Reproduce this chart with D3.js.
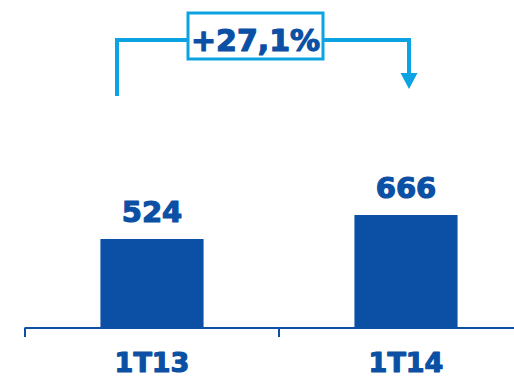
<!DOCTYPE html>
<html>
<head>
<meta charset="utf-8">
<script src="https://cdn.jsdelivr.net/npm/d3@7/dist/d3.min.js"></script>
<style>
  html, body { margin: 0; padding: 0; background: #fff; }
  svg { display: block; }
  text { font-family: "DejaVu Sans", Verdana, sans-serif; font-weight: bold; paint-order: stroke; stroke-linejoin: round; }
</style>
</head>
<body>
<script>
// Quarterly figures
const categories = ["1T13", "1T14"];
const values = [524, 666];
const growthLabel = "+27,1%";

const W = 514, H = 380;
const dark = "#0b50a4";
const light = "#0ba3e2";

const svg = d3.select("body").append("svg")
  .attr("width", W).attr("height", H);

const baseY = 327.5;

const x = d3.scaleBand()
  .domain(categories)
  .range([25, 533])
  .paddingInner(0.594)
  .paddingOuter(0.297);

const y = d3.scaleLinear()
  .domain([0, 666])
  .range([baseY, 215]);

// Bars
svg.selectAll("rect.bar")
  .data(values)
  .join("rect")
  .attr("class", "bar")
  .attr("x", (d, i) => x(categories[i]))
  .attr("width", x.bandwidth())
  .attr("y", d => y(d))
  .attr("height", d => y(0) - y(d))
  .attr("fill", dark);

// Value labels
svg.selectAll("text.val")
  .data(values)
  .join("text")
  .attr("class", "val")
  .attr("x", (d, i) => x(categories[i]) + x.bandwidth() / 2)
  .attr("y", d => y(d) - 17)
  .attr("text-anchor", "middle")
  .attr("font-size", 29)
  .attr("fill", dark)
  .attr("stroke", dark).attr("stroke-width", 1.2)
  .text(d => d);

// Category axis: baseline with boundary ticks between bands
const step = x.step();
const r0 = x.range()[0];
svg.append("line")
  .attr("x1", r0).attr("x2", W)
  .attr("y1", baseY + 0.5).attr("y2", baseY + 0.5)
  .attr("stroke", dark).attr("stroke-width", 2);
svg.selectAll("line.tick")
  .data(d3.range(categories.length))
  .join("line")
  .attr("class", "tick")
  .attr("x1", i => r0 + i * step).attr("x2", i => r0 + i * step)
  .attr("y1", baseY).attr("y2", 337)
  .attr("stroke", dark).attr("stroke-width", 2);

svg.selectAll("text.cat")
  .data(categories)
  .join("text")
  .attr("class", "cat")
  .attr("x", d => x(d) + x.bandwidth() / 2)
  .attr("y", 372)
  .attr("text-anchor", "middle")
  .attr("font-size", 27)
  .attr("fill", dark)
  .attr("stroke", dark).attr("stroke-width", 1.2)
  .text(d => d);

// Growth bracket from first bar to second bar
const x1 = x(categories[0]) + x.bandwidth() / 2 - 35;
const x2 = x(categories[1]) + x.bandwidth() / 2 + 3;
const bracketY = 40;
const boxL = 188, boxR = 323, boxT = 13, boxB = 59;

svg.append("path")
  .attr("d", `M${x1},96 V${bracketY} H${boxL}`)
  .attr("fill", "none").attr("stroke", light).attr("stroke-width", 4);
svg.append("path")
  .attr("d", `M${boxR},${bracketY} H${x2} V74`)
  .attr("fill", "none").attr("stroke", light).attr("stroke-width", 4);
svg.append("path")
  .attr("d", `M${x2 - 8.5},73 L${x2 + 8.5},73 L${x2},89 Z`)
  .attr("fill", light);

svg.append("rect")
  .attr("x", boxL).attr("y", boxT)
  .attr("width", boxR - boxL).attr("height", boxB - boxT)
  .attr("fill", "#fff").attr("stroke", light).attr("stroke-width", 3);

svg.append("text")
  .attr("x", (boxL + boxR) / 2)
  .attr("y", 51)
  .attr("text-anchor", "middle")
  .attr("font-size", 30)
  .attr("fill", dark)
  .attr("stroke", dark).attr("stroke-width", 1.2)
  .text(growthLabel);
</script>
</body>
</html>
